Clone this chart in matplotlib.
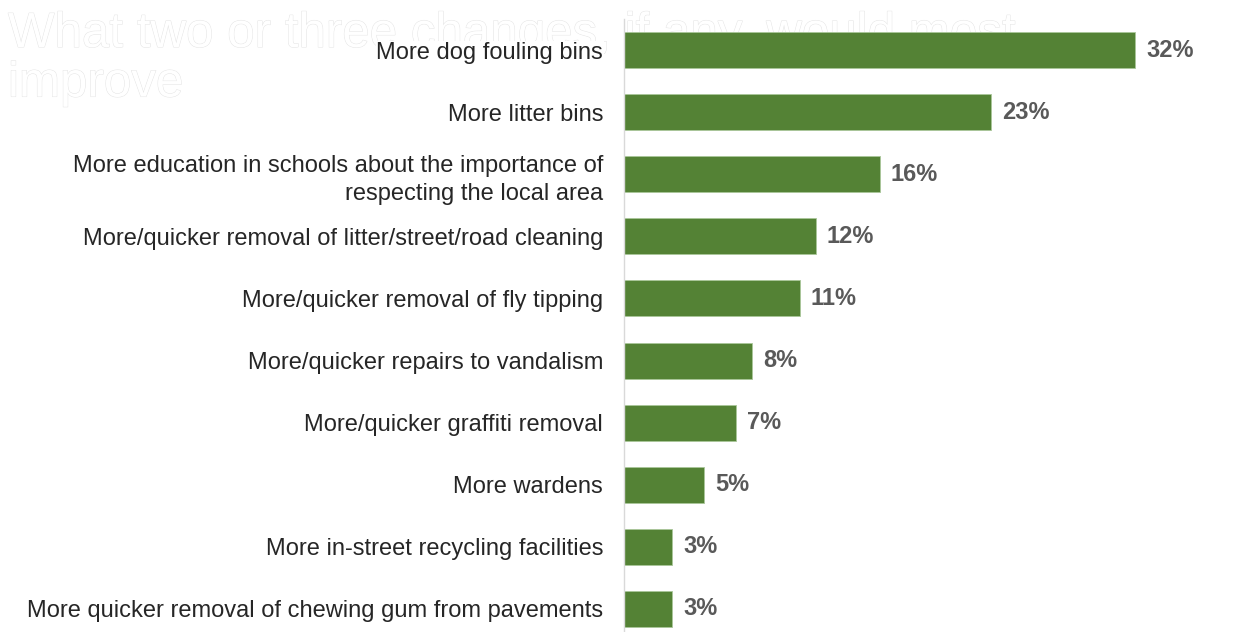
import matplotlib
matplotlib.use("Agg")
import matplotlib.pyplot as plt
import matplotlib.patheffects as pe

plt.rcParams["font.family"] = ["Liberation Sans", "DejaVu Sans"]

# Survey answers, top row first
categories = [
    "More dog fouling bins",
    "More litter bins",
    "More education in schools about the importance of\nrespecting the local area",
    "More/quicker removal of litter/street/road cleaning",
    "More/quicker removal of fly tipping",
    "More/quicker repairs to vandalism",
    "More/quicker graffiti removal",
    "More wardens",
    "More in-street recycling facilities",
    "More quicker removal of chewing gum from pavements",
]
shares = [32, 23, 16, 12, 11, 8, 7, 5, 3, 3]
value_labels = ["32%", "23%", "16%", "12%", "11%", "8%", "7%", "5%", "3%", "3%"]
title = "What two or three changes, if any, would most\nimprove"

W, H = 1239, 632
fig = plt.figure(figsize=(W / 100, H / 100), dpi=100)

# faint white heading, sits behind the chart
fig.text(8 / W, 1 - 12 / H, title, ha="left", va="top", fontsize=35.5,
         color="white", linespacing=1.13, zorder=-5,
         path_effects=[pe.Stroke(linewidth=0.7, foreground="#e4e4e4"), pe.Normal()])

ax = fig.add_axes([624 / W, -8 / H, (W - 624) / W, 621 / H])
ax.set_zorder(2)
ax.patch.set_alpha(0)
ypos = list(range(len(categories)))
ax.barh(ypos, shares, height=0.58, color="#548235", edgecolor="#a9c79a", linewidth=0.6)
ax.set_ylim(len(categories) - 0.5, -0.5)
ax.set_xlim(0, 38.5)

for y, v, lab in zip(ypos, shares, value_labels):
    ax.text(v + 0.7, y, lab, va="center", ha="left", fontsize=17,
            fontweight="bold", color="#595959")

ax.set_yticks(ypos)
ax.set_yticklabels(categories, fontsize=17, color="#262626", linespacing=1.35)
for t in ax.get_yticklabels():
    t.set_horizontalalignment("right")
    t.set_bbox(dict(facecolor="white", edgecolor="none", pad=0.5))
ax.tick_params(axis="y", length=0, pad=15)
ax.set_xticks([])
for s in ["top", "right", "bottom"]:
    ax.spines[s].set_visible(False)
ax.spines["left"].set_color("#d9d9d9")
ax.spines["left"].set_linewidth(1)

fig.savefig("out.png", dpi=100)
